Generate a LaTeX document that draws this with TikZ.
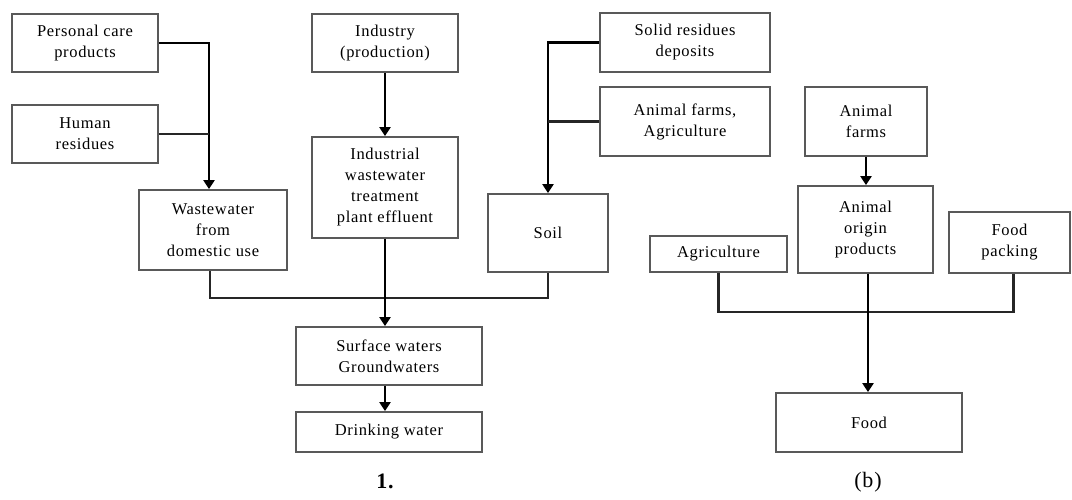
\documentclass[tikz,border=0pt]{standalone}
\usepackage{fontspec}
\setmainfont{Liberation Serif}[LetterSpace=4]
\usetikzlibrary{arrows.meta,calc}
\tikzset{
  box/.style={draw=black!65, line width=1.8pt, fill=white, align=center, inner sep=2pt,
    font=\fontsize{16.5}{21}\selectfont},
  conn/.style={draw=black, line width=2.8pt, -{Triangle[width=11pt,length=9pt]}},
  link/.style={draw=black!85, line width=2.6pt},
  caption/.style={font=\fontsize{22}{24}\selectfont}
}
\begin{document}
\begin{tikzpicture}[x=1pt,y=-1pt]
\useasboundingbox (0,0) rectangle (1072,500);
% left diagram
\node[box, minimum width=146pt, minimum height=58pt] (pcp) at (85,43) {Personal care\\products};
\node[box, minimum width=146pt, minimum height=58pt] (hr) at (85,134) {Human\\residues};
\node[box, minimum width=148pt, minimum height=80pt] (ww) at (213,230) {Wastewater\\from\\domestic use};
\node[box, minimum width=146pt, minimum height=58pt] (ind) at (385,43) {Industry\\(production)};
\node[box, minimum width=146pt, minimum height=101pt] (iwt) at (385,187.5) {Industrial\\wastewater\\treatment\\plant effluent};
\node[box, minimum width=170pt, minimum height=59pt] (srd) at (685,42.5) {Solid residues\\deposits};
\node[box, minimum width=170pt, minimum height=69pt] (afa) at (685,121.5) {Animal farms,\\Agriculture};
\node[box, minimum width=120pt, minimum height=78pt] (soil) at (548,233) {Soil};
\node[box, minimum width=186pt, minimum height=58pt] (sw) at (389,356) {Surface waters\\Groundwaters};
\node[box, minimum width=186pt, minimum height=40pt] (dw) at (389,432) {Drinking water};
\node[caption, font=\fontsize{22}{24}\selectfont\bfseries] (l1) at (385,481) {1.};
% right diagram
\node[box, minimum width=122pt, minimum height=69pt] (af) at (866,121.5) {Animal\\farms};
\node[box, minimum width=135pt, minimum height=87pt] (aop) at (865.5,229.5) {Animal\\origin\\products};
\node[box, minimum width=137pt, minimum height=36pt] (agr) at (718.5,254) {Agriculture};
\node[box, minimum width=121pt, minimum height=61pt] (fp) at (1009.5,242.5) {Food\\packing};
\node[box, minimum width=186pt, minimum height=59pt] (food) at (869,422.5) {Food};
\node[caption] (lb) at (868,482) {(b)};
% connectors left
\coordinate (wwin) at ($(ww.north)+(-4,0)$);
\draw[conn] (pcp.east) -| (wwin);
\draw[link] (hr.east) -- (hr.east -| wwin);
\draw[conn] (ind.south) -- (iwt.north);
\coordinate (j1) at (385,298);
\draw[link] ($(ww.south)+(-3,0)$) |- (j1);
\draw[link] (soil.south) |- (j1);
\draw[conn] (iwt.south) -- (iwt.south |- sw.north);
\draw[conn] (sw.south -| iwt.south) -- (dw.north -| iwt.south);
\draw[conn] (srd.west) -| (soil.north);
\draw[link] (afa.west) -- (afa.west -| soil.north);
% connectors right
\draw[conn] (af.south) -- (af.south |- aop.north);
\coordinate (j2) at (868,312);
\draw[link] (agr.south) |- (j2);
\draw[link] ($(fp.south)+(4,0)$) |- (j2);
\draw[conn] (aop.south -| j2) -- (food.north -| j2);
\end{tikzpicture}
\end{document}
